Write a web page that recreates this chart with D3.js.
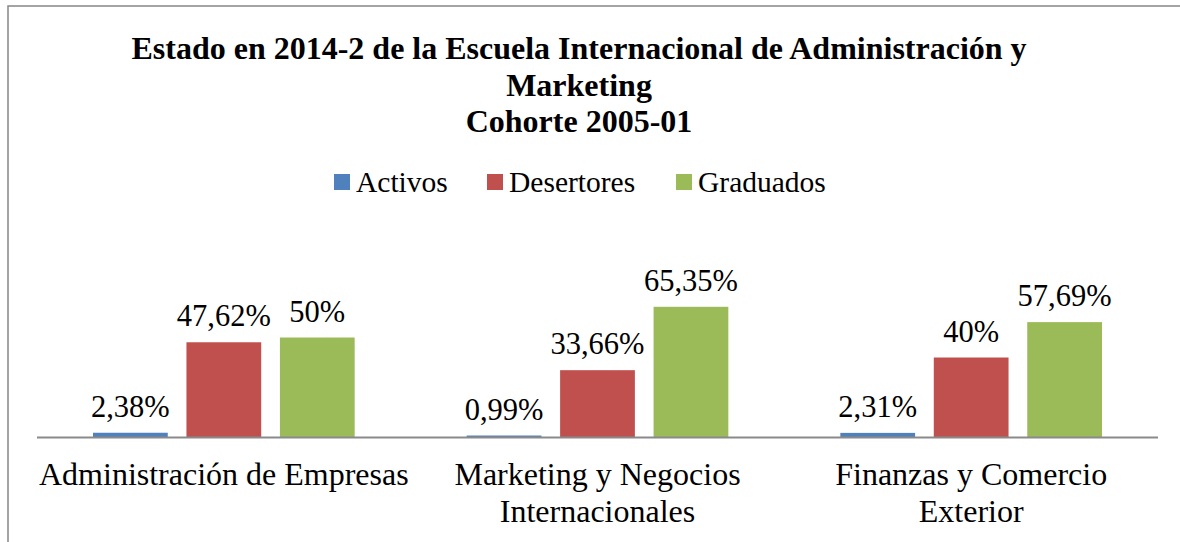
<!DOCTYPE html>
<html>
<head>
<meta charset="utf-8">
<script src="https://cdn.jsdelivr.net/npm/d3@7"></script>
<style>
  body { margin: 0; background: #fff; }
  svg text { font-family: "Liberation Serif", "Times New Roman", serif; fill: #000; }
</style>
</head>
<body>
<div id="chart"></div>
<script>
// chart data
const titleLines = ["Estado en 2014-2 de la Escuela Internacional de Administración y", "Marketing", "Cohorte 2005-01"];
const categories = ["Administración de Empresas", "Marketing y Negocios Internacionales", "Finanzas y Comercio Exterior"];
const categoryLines = [["Administración de Empresas"], ["Marketing y Negocios", "Internacionales"], ["Finanzas y Comercio", "Exterior"]];
const series = ["Activos", "Desertores", "Graduados"];
const colors = ["#4f81bd", "#c0504d", "#9bbb59"];
const activos = [2.38, 0.99, 2.31];
const desertores = [47.62, 33.66, 40];
const graduados = [50, 65.35, 57.69];
const labels = [["2,38%", "0,99%", "2,31%"], ["47,62%", "33,66%", "40%"], ["50%", "65,35%", "57,69%"]];

const values = [activos, desertores, graduados];

const width = 1180, height = 542;
const svg = d3.select("#chart").append("svg")
    .attr("width", width)
    .attr("height", height);

// outer frame (runs off the right and bottom of the picture)
svg.append("rect")
    .attr("x", 8).attr("y", 6)
    .attr("width", 1200).attr("height", 600)
    .attr("fill", "none")
    .attr("stroke", "#878787")
    .attr("stroke-width", 1.5);

// title
svg.append("text")
    .attr("text-anchor", "middle")
    .attr("font-weight", "bold")
    .attr("font-size", 32)
    .selectAll("tspan")
    .data(titleLines)
    .join("tspan")
    .attr("x", 579)
    .attr("y", (d, i) => 59 + i * 36.5)
    .text(d => d);

// legend
const legendX = [334, 487, 676];
const legend = svg.append("g").attr("class", "legend");
legend.selectAll("rect")
    .data(series)
    .join("rect")
    .attr("x", (d, i) => legendX[i])
    .attr("y", 174)
    .attr("width", 16).attr("height", 16)
    .attr("fill", (d, i) => colors[i]);
legend.selectAll("text")
    .data(series)
    .join("text")
    .attr("x", (d, i) => legendX[i] + 22)
    .attr("y", 192)
    .attr("font-size", 29.5)
    .text(d => d);

// scales
const plotLeft = 37, plotRight = 1158, baseY = 437.5;
const x0 = d3.scaleBand().domain(categories).range([plotLeft, plotRight]).padding(0);
const x1 = d3.scaleBand().domain(series)
    .range([56, x0.bandwidth() - 56])
    .paddingInner(0.2).paddingOuter(0);
const y = d3.scaleLinear().domain([0, 100]).range([baseY, baseY - 200]);

const rows = [];
series.forEach((s, si) => {
    categories.forEach((c, ci) => {
        rows.push({cat: c, ser: s, si: si, value: values[si][ci], label: labels[si][ci]});
    });
});

svg.selectAll(".bar")
    .data(rows)
    .join("rect")
    .attr("class", "bar")
    .attr("x", d => x0(d.cat) + x1(d.ser))
    .attr("y", d => y(d.value))
    .attr("width", x1.bandwidth())
    .attr("height", d => baseY - y(d.value))
    .attr("fill", d => colors[d.si]);

svg.selectAll(".val")
    .data(rows)
    .join("text")
    .attr("class", "val")
    .attr("text-anchor", "middle")
    .attr("font-size", 30.5)
    .attr("x", d => x0(d.cat) + x1(d.ser) + x1.bandwidth() / 2)
    .attr("y", d => y(d.value) - 16)
    .text(d => d.label);

// baseline
svg.append("line")
    .attr("x1", plotLeft).attr("x2", plotRight)
    .attr("y1", baseY).attr("y2", baseY)
    .attr("stroke", "#8a8a8a")
    .attr("stroke-width", 2);

// category labels
const catG = svg.selectAll(".cat")
    .data(categories)
    .join("text")
    .attr("class", "cat")
    .attr("text-anchor", "middle")
    .attr("font-size", 32);
catG.selectAll("tspan")
    .data((d, i) => categoryLines[i].map(t => ({t, c: d})))
    .join("tspan")
    .attr("x", d => x0(d.c) + x0.bandwidth() / 2)
    .attr("y", (d, i) => 485 + i * 37)
    .text(d => d.t);
</script>
</body>
</html>
